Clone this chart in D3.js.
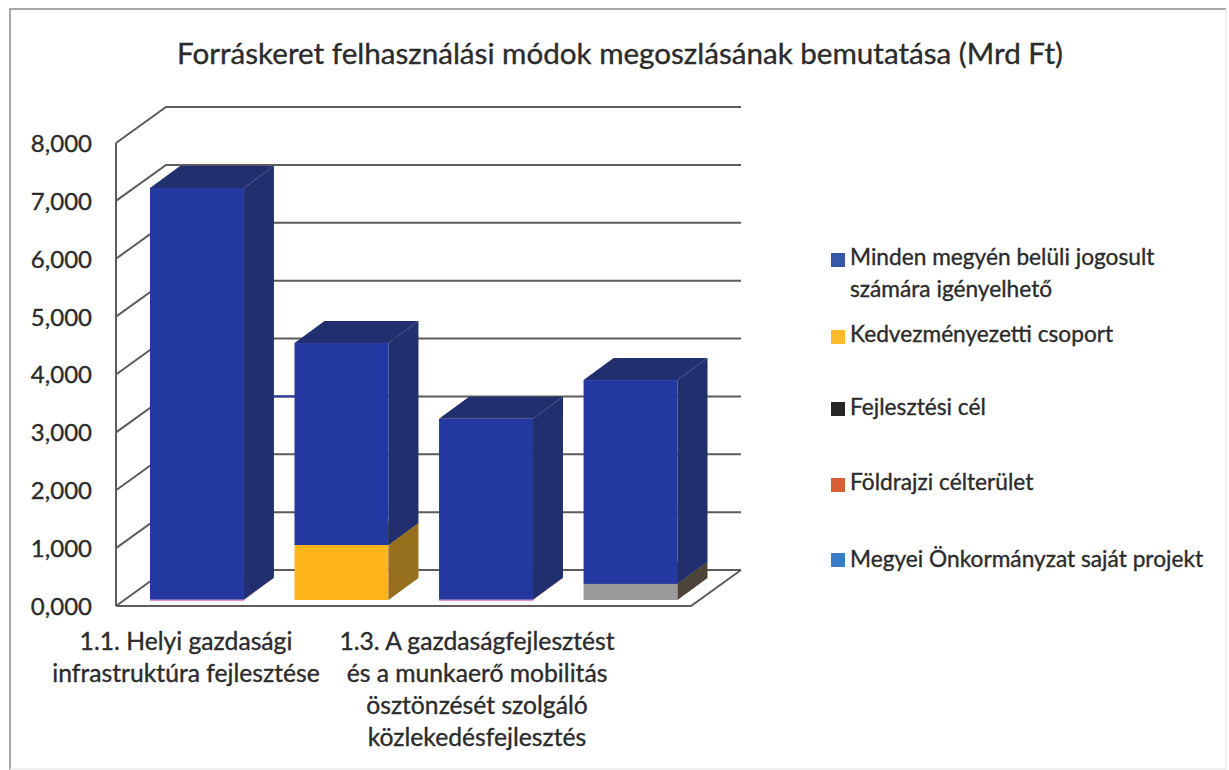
<!DOCTYPE html>
<meta charset="utf-8">
<style>
    html, body { margin: 0; background: #fff; }
    text { font-family: Lato, "Open Sans", sans-serif; fill: #2b2b2b; stroke: #2b2b2b; stroke-width: 0.35; }
    .title { font-size: 29.6px; }
    .cat-label { font-size: 24.7px; }
    .legend-label { font-size: 22.7px; }
    .grid { stroke: #5c5c5c; stroke-width: 2; fill: none; }
</style>
<svg width="1229" height="770"></svg>
<script src="https://d3js.org/d3.v7.min.js"></script>
<script>

var title = "Forráskeret felhasználási módok megoszlásának bemutatása (Mrd Ft)";

// four bars, only every other category gets a label in the picture
var categories = ["c1", "c2", "c3", "c4"];
var categoryLabels = [
    ["1.1. Helyi gazdasági", "infrastruktúra fejlesztése"],
    [],
    ["1.3. A gazdaságfejlesztést", "és a munkaerő mobilitás", "ösztönzését szolgáló", "közlekedésfejlesztés"],
    []
];

var seriesNames = ["Megyei Önkormányzat saját projekt", "Földrajzi célterület", "Fejlesztési cél", "Kedvezményezetti csoport", "Minden megyén belüli jogosult számára igényelhető"];

var megyeiValues = [0, 0, 0, 0];
var foldrajziValues = [10, 0, 10, 0];
var fejlesztesiValues = [0, 0, 0, 280];
var kedvezmenyezettiValues = [0, 950, 0, 0];
var mindenValues = [7110, 3490, 3120, 3520];

var yTicks = [0, 1000, 2000, 3000, 4000, 5000, 6000, 7000, 8000];

// front face colour, side colour, top colour per series
var colors = {
    "Megyei Önkormányzat saját projekt": ["#3a7cc8", "#2a5a92", "#2a5a92"],
    "Földrajzi célterület": ["#d98ac8", "#a0608f", "#a0608f"],
    "Fejlesztési cél": ["#9a9a9a", "#4c4438", "#4c4438"],
    "Kedvezményezetti csoport": ["#fdb51a", "#96701c", "#96701c"],
    "Minden megyén belüli jogosult számára igényelhető": ["#2338a0", "#212f6e", "#212f6e"]
};

var valuesByName = {};
valuesByName[seriesNames[0]] = megyeiValues;
valuesByName[seriesNames[1]] = foldrajziValues;
valuesByName[seriesNames[2]] = fejlesztesiValues;
valuesByName[seriesNames[3]] = kedvezmenyezettiValues;
valuesByName[seriesNames[4]] = mindenValues;

var svg = d3.select("svg");

// scan frame: top and left are dark, right and bottom nearly gone
svg.append("path").attr("d", "M10,770V9H1226").attr("fill", "none").attr("stroke", "#8c8c8c").attr("stroke-width", 1.5);
svg.append("path").attr("d", "M1226,9V769H10").attr("fill", "none").attr("stroke", "#ececec").attr("stroke-width", 1.5);

svg.append("text").attr("class", "title")
    .attr("x", 620).attr("y", 64).attr("text-anchor", "middle").text(title);

var depthX = 50, depthY = -36; // full depth of the 3d box
var plotLeft = 116, plotRight = 691;

var y = d3.scaleLinear().domain([0, 8000]).range([606, 143]);
var x = d3.scaleBand().domain(categories).range([150, 677.5]).paddingInner(0.35).paddingOuter(0);

var stack = d3.stack().keys(seriesNames).value(function(d, key) { return valuesByName[key][d]; });
var layers = stack(d3.range(categories.length));

var axisG = svg.append("g");

// walls
yTicks.forEach(function(t) {
    var yy = y(t);
    axisG.append("path").attr("class", "grid")
        .attr("d", d3.line()([[plotLeft, yy], [plotLeft + depthX, yy + depthY], [plotRight + depthX, yy + depthY]]));
});
axisG.append("path").attr("class", "grid")
    .attr("d", d3.line()([[plotLeft, y(0)], [plotRight, y(0)], [plotRight + depthX, y(0) + depthY]]));
axisG.append("path").attr("class", "grid")
    .attr("d", d3.line()([[plotLeft, y(8000)], [plotLeft, y(0)]]));

// y axis labels
var yAxis = d3.axisLeft(y).tickValues(yTicks).tickSize(0).tickPadding(0)
    .tickFormat(function(d) { return d3.format(".3f")(d / 1000).replace(".", ","); });
var yAxisG = svg.append("g").attr("transform", "translate(" + (plotLeft - 24) + ",0)").call(yAxis);
yAxisG.select(".domain").remove();
yAxisG.selectAll("text").style("font-family", "Lato").style("font-size", "24px").attr("dy", "0.35em");

// bars
var barDepthX = 30, barDepthY = -22;
var barLift = -6; // bars stand a little inside the floor

// the 3,000 gridline looks blue in the gap after the first bar
svg.append("line")
    .attr("x1", x("c1") + x.bandwidth() + barDepthX).attr("x2", x("c2"))
    .attr("y1", y(3000) + depthY).attr("y2", y(3000) + depthY)
    .attr("stroke", "#2338a0").attr("stroke-width", 2);

layers.forEach(function(layer) {
    var key = layer.key, c = colors[key];
    var g = svg.append("g");
    layer.forEach(function(d, i) {
        if (d[1] - d[0] <= 0) return;
        var cat = categories[i];
        var x0 = x(cat), x1 = x0 + x.bandwidth();
        var yb = y(d[0]) + barLift, yt = y(d[1]) + barLift;
        // front
        g.append("rect").attr("x", x0).attr("y", yt).attr("width", x1 - x0).attr("height", Math.max(yb - yt, 1.5)).attr("fill", c[0]);
        // side
        g.append("path").attr("fill", c[1])
            .attr("d", d3.line()([[x1, yb], [x1 + barDepthX, yb + barDepthY], [x1 + barDepthX, yt + barDepthY], [x1, yt]]) + "Z");
        // top
        g.append("path").attr("fill", c[2])
            .attr("d", d3.line()([[x0, yt], [x0 + barDepthX, yt + barDepthY], [x1 + barDepthX, yt + barDepthY], [x1, yt]]) + "Z");
    });
});

// category labels
var labelCenters = [186, null, 477, null];
categoryLabels.forEach(function(lines, i) {
    lines.forEach(function(line, j) {
        svg.append("text").attr("class", "cat-label")
            .attr("x", labelCenters[i]).attr("y", 650 + j * 32)
            .attr("text-anchor", "middle").text(line);
    });
});

// legend, top to bottom
var legendRows = [
    { lines: ["Minden megyén belüli jogosult", "számára igényelhető"], color: "#3558a8", box: 253, text: 265 },
    { lines: ["Kedvezményezetti csoport"], color: "#fdbb2c", box: 330, text: 342 },
    { lines: ["Fejlesztési cél"], color: "#262626", box: 402, text: 415 },
    { lines: ["Földrajzi célterület"], color: "#d85f35", box: 478, text: 490 },
    { lines: ["Megyei Önkormányzat saját projekt"], color: "#3a7cc8", box: 553, text: 567 }
];
var legend = svg.append("g");
legendRows.forEach(function(r) {
    legend.append("rect").attr("x", 831).attr("y", r.box).attr("width", 14).attr("height", 14).attr("fill", r.color);
    r.lines.forEach(function(line, j) {
        legend.append("text").attr("class", "legend-label")
            .attr("x", 850).attr("y", r.text + j * 32).text(line);
    });
});

</script>
